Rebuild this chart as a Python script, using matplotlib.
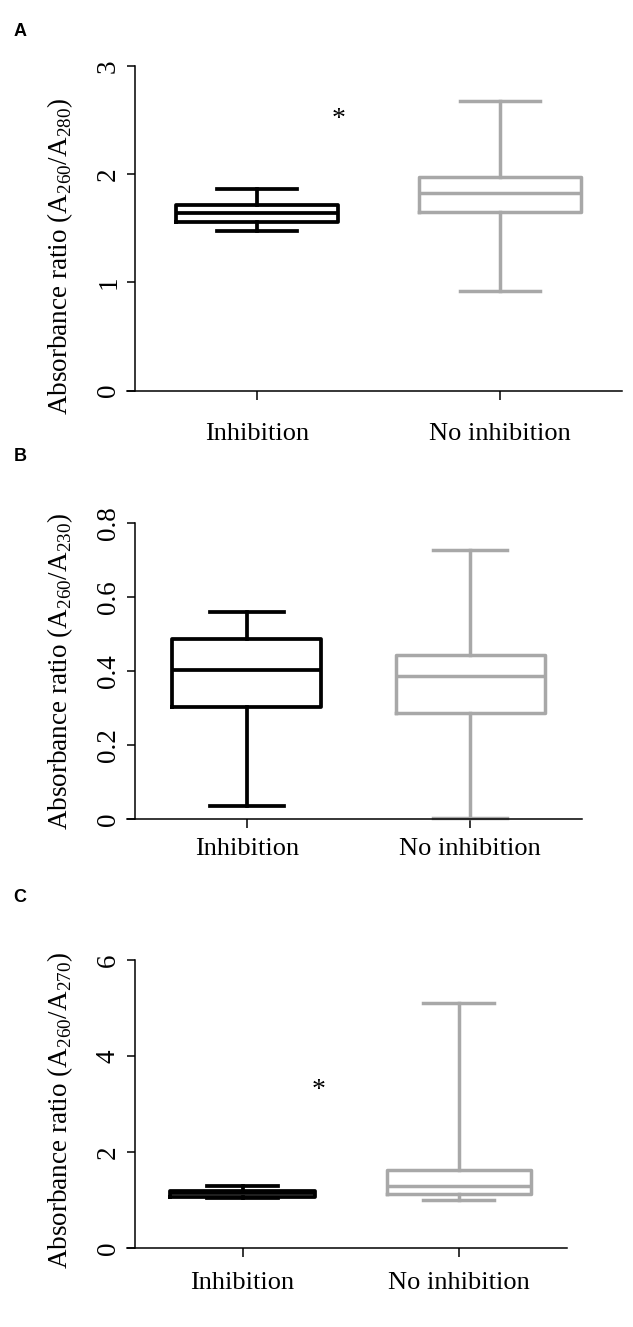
import matplotlib.pyplot as plt

plt.rcParams['font.family'] = ['Liberation Serif', 'DejaVu Serif']
plt.rcParams['mathtext.fontset'] = 'custom'
plt.rcParams['mathtext.rm'] = 'Liberation Serif'

groups = ['Inhibition', 'No inhibition']

# whislo, q1, median, q3, whishi
a_inhib = [1.48, 1.56, 1.64, 1.72, 1.865]
a_noinh = [0.92, 1.648, 1.828, 1.976, 2.68]
b_inhib = [0.035, 0.304, 0.404, 0.486, 0.559]
b_noinh = [0.002, 0.286, 0.387, 0.443, 0.727]
c_inhib = [1.04, 1.06, 1.14, 1.19, 1.30]
c_noinh = [1.006, 1.125, 1.30, 1.625, 5.10]

a_ticks = [0, 1, 2, 3]
b_ticks = [0, 0.2, 0.4, 0.6, 0.8]
c_ticks = [0, 2, 4, 6]
a_ticklabels = ['0', '1', '2', '3']
b_ticklabels = ['0', '0.2', '0.4', '0.6', '0.8']
c_ticklabels = ['0', '2', '4', '6']

a_star = (1.336, 2.51)
c_star = (1.35, 3.28)

colors = ['black', '#a8a8a8']

W, H = 633, 1327
fig = plt.figure(figsize=(W / 100, H / 100), dpi=100)


def stats(v, name):
    return dict(whislo=v[0], q1=v[1], med=v[2], q3=v[3], whishi=v[4], label=name, fliers=[])


def panel(spine_x, right, top, bottom, boxes, ticks, ticklabels, ylabel, lab_y, xpad, letter, letter_y, star=None):
    # bottom axis line starts 8 px left of the y axis
    left = spine_x - 8
    ax = fig.add_axes([left / W, 1 - bottom / H, (right - left) / W, (bottom - top) / H])
    scale = (right - spine_x) / 2.0
    ax.set_xlim(0.5 - 8 / scale, 2.5)
    ax.set_ylim(ticks[0], ticks[-1])

    for i, (vals, col) in enumerate(zip(boxes, colors)):
        lw = 2.7 if col == 'black' else 2.5
        p = dict(color=col, linewidth=lw, solid_capstyle='projecting')
        art = ax.bxp([stats(vals, groups[i])], positions=[i + 1], widths=0.667, capwidths=0.33,
                     showfliers=False, boxprops=p, whiskerprops=p, capprops=p,
                     medianprops=dict(color=col, linewidth=lw), manage_ticks=False)
        for k in art:
            for a in art[k]:
                a.set_clip_on(False)

    for s in ['top', 'right']:
        ax.spines[s].set_visible(False)
    ax.spines['left'].set_position(('data', 0.5))
    ax.spines['left'].set_linewidth(1.1)
    ax.spines['bottom'].set_linewidth(1.1)

    ax.set_yticks(ticks)
    ax.set_yticklabels(ticklabels)
    ax.set_xticks([1, 2])
    ax.set_xticklabels(groups)
    ax.tick_params(axis='y', length=6, width=1.1, labelsize=19.5, labelrotation=90, pad=4)
    ax.tick_params(axis='x', length=6.5, width=1.1, labelsize=19, pad=xpad)
    for t in ax.get_yticklabels():
        t.set_va('center')

    ax.set_ylabel(ylabel, fontsize=19.5, va='center')
    ax.yaxis.set_label_coords((60 - left) / (right - left), lab_y)

    if star is not None:
        ax.text(star[0], star[1], '*', fontsize=20, ha='center', va='center')

    fig.text(20 / W, 1 - letter_y / H, letter, family='Liberation Sans', weight='bold',
             fontsize=13, ha='center', va='center')
    return ax


panel(135, 621.7, 66, 390.7, [a_inhib, a_noinh], a_ticks, a_ticklabels,
      r'Absorbance ratio (A$_{\mathrm{260}}$/A$_{\mathrm{280}}$)', 0.415, 16.5, 'A', 31, a_star)
panel(135, 581.7, 523, 819, [b_inhib, b_noinh], b_ticks, b_ticklabels,
      r'Absorbance ratio (A$_{\mathrm{260}}$/A$_{\mathrm{230}}$)', 0.5, 7, 'B', 456)
panel(134.5, 566.7, 960, 1248, [c_inhib, c_noinh], c_ticks, c_ticklabels,
      r'Absorbance ratio (A$_{\mathrm{260}}$/A$_{\mathrm{270}}$)', 0.479, 10.8, 'C', 898, c_star)

fig.savefig('out.png', dpi=100)
